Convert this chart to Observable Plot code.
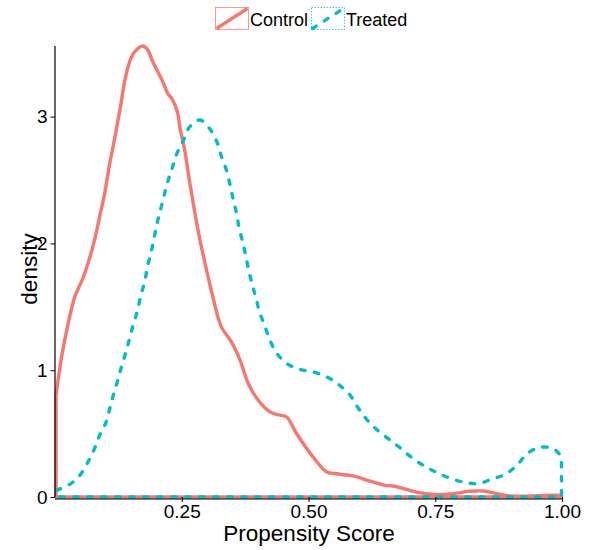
<!DOCTYPE html>
<html>
<head>
<meta charset="utf-8">
<script src="https://cdn.jsdelivr.net/npm/d3@7"></script>
<script src="https://cdn.jsdelivr.net/npm/@observablehq/plot@0.6"></script>
<style>
  html, body { margin: 0; padding: 0; background: #fff; }
  #chart { width: 589px; font-family: "Liberation Sans", Arial, Helvetica, sans-serif; }
  #chart svg { display: block; }
</style>
</head>
<body>
<div id="chart"></div>
<script>
// Estimated kernel density of the propensity score, by group
const groups = ["Control", "Treated"];
const groupColors = ["#F8766D", "#00BFC4"];

const controlX = [0.002, 0.013, 0.026, 0.039, 0.049, 0.055, 0.069, 0.078, 0.088, 0.098, 0.108, 0.114, 0.128, 0.138, 0.147, 0.157, 0.173, 0.183, 0.193, 0.211, 0.222, 0.232, 0.242, 0.246, 0.256, 0.266, 0.276, 0.286, 0.299, 0.312, 0.328, 0.348, 0.365, 0.381, 0.398, 0.424, 0.444, 0.457, 0.476, 0.509, 0.536, 0.552, 0.562, 0.588, 0.621, 0.651, 0.667, 0.713, 0.746, 0.786, 0.818, 0.845, 0.871, 0.897, 0.937, 0.970, 0.999];
const controlY = [0.80, 1.105, 1.369, 1.579, 1.671, 1.724, 1.894, 2.026, 2.210, 2.395, 2.631, 2.752, 3.052, 3.289, 3.431, 3.510, 3.557, 3.526, 3.431, 3.289, 3.186, 3.131, 3.028, 2.920, 2.731, 2.474, 2.239, 2.026, 1.789, 1.568, 1.342, 1.223, 1.079, 0.897, 0.779, 0.671, 0.645, 0.631, 0.503, 0.316, 0.197, 0.185, 0.179, 0.166, 0.126, 0.092, 0.087, 0.039, 0.021, 0.027, 0.045, 0.047, 0.027, 0.008, 0.008, 0.013, 0.013];

const treatedX = [0.003, 0.029, 0.049, 0.065, 0.078, 0.088, 0.101, 0.108, 0.115, 0.124, 0.131, 0.140, 0.147, 0.155, 0.163, 0.169, 0.177, 0.182, 0.189, 0.195, 0.201, 0.208, 0.215, 0.222, 0.231, 0.240, 0.253, 0.265, 0.286, 0.307, 0.320, 0.328, 0.338, 0.345, 0.351, 0.358, 0.363, 0.370, 0.376, 0.382, 0.389, 0.396, 0.404, 0.414, 0.424, 0.437, 0.457, 0.483, 0.509, 0.536, 0.559, 0.582, 0.598, 0.615, 0.634, 0.657, 0.680, 0.702, 0.726, 0.751, 0.776, 0.805, 0.834, 0.861, 0.888, 0.911, 0.930, 0.955, 0.983, 0.999];
const treatedY = [0.053, 0.100, 0.171, 0.276, 0.382, 0.487, 0.592, 0.698, 0.803, 0.923, 1.026, 1.144, 1.250, 1.369, 1.474, 1.586, 1.697, 1.811, 1.921, 2.032, 2.152, 2.263, 2.374, 2.481, 2.592, 2.705, 2.810, 2.916, 2.973, 2.894, 2.794, 2.689, 2.579, 2.466, 2.355, 2.237, 2.126, 2.013, 1.908, 1.789, 1.676, 1.574, 1.452, 1.347, 1.236, 1.137, 1.053, 1.006, 0.987, 0.947, 0.889, 0.803, 0.702, 0.611, 0.534, 0.461, 0.390, 0.316, 0.250, 0.197, 0.153, 0.118, 0.106, 0.140, 0.179, 0.250, 0.337, 0.390, 0.382, 0.316];

const xTicks = [0.25, 0.50, 0.75, 1.00];
const yTicks = [0, 1, 2, 3];
const xTitle = "Propensity Score";
const yTitle = "density";

const control = controlX.map((x, i) => ({x, y: controlY[i]}));
const treated = treatedX.map((x, i) => ({x, y: treatedY[i]}));

const FONT = `"Liberation Sans", Arial, Helvetica, sans-serif`;
const W = 589;
const legendH = 38;
const dash = "4.5,9.5";

// Legend row above the plot
const legend = d3.create("svg")
  .attr("width", W)
  .attr("height", legendH)
  .style("font-family", FONT);

const keyW = 33, keyH = 22, keyTop = 7.5;
const keyLefts = [215.5, 311.5];
groups.forEach((g, i) => {
  const x0 = keyLefts[i];
  const key = legend.append("g");
  key.append("rect")
    .attr("x", x0).attr("y", keyTop).attr("width", keyW).attr("height", keyH)
    .attr("fill", "none")
    .attr("stroke", groupColors[i])
    .attr("stroke-opacity", 0.75)
    .attr("stroke-width", 1)
    .attr("stroke-dasharray", i === 1 ? "1.5,1.5" : null);
  key.append("line")
    .attr("x1", x0 + 1).attr("y1", keyTop + keyH - 1)
    .attr("x2", x0 + keyW - 1).attr("y2", keyTop + 1)
    .attr("stroke", groupColors[i])
    .attr("stroke-width", 3.3)
    .attr("stroke-linecap", i === 1 ? "round" : "butt")
    .attr("stroke-dasharray", i === 1 ? dash : null);
  legend.append("text")
    .attr("x", x0 + keyW + 1.5)
    .attr("y", 26)
    .attr("font-size", 18)
    .attr("fill", "#000")
    .text(g);
});

document.getElementById("chart").appendChild(legend.node());

const plot = Plot.plot({
  width: W,
  height: 512,
  marginTop: 8,
  marginBottom: 53,
  marginLeft: 55,
  marginRight: 27,
  style: {fontFamily: FONT, background: "#fff", color: "#000", overflow: "visible"},
  x: {domain: [0, 1], label: null},
  y: {domain: [0, 3.557], label: null},
  marks: [
    Plot.areaY(control, {
      x: "x", y: "y", fill: "none",
      stroke: groupColors[0], strokeWidth: 3.4,
      curve: "catmull-rom", strokeLinejoin: "round"
    }),
    Plot.areaY(treated, {
      x: "x", y: "y", fill: "none",
      stroke: groupColors[1], strokeWidth: 3.4,
      strokeDasharray: dash, strokeLinecap: "round",
      curve: "catmull-rom"
    }),
    Plot.ruleY([0], {stroke: "#000", strokeWidth: 1.2, dy: 1.5}),
    Plot.ruleX([0], {stroke: "#000", strokeWidth: 1.2, dx: -0.5}),
    Plot.axisX({
      ticks: xTicks, tickFormat: d3.format(".2f"),
      tickSize: 5, tickPadding: 2, fontSize: 19, label: null, stroke: "#000"
    }),
    Plot.axisY({
      ticks: yTicks, tickFormat: d3.format("d"),
      tickSize: 4.5, tickPadding: 3.5, fontSize: 19, label: null, stroke: "#000"
    }),
    Plot.text([xTitle], {
      frameAnchor: "bottom", lineAnchor: "middle", textAnchor: "middle",
      dy: 36, fontSize: 22.5, fill: "#000"
    }),
    Plot.text([yTitle], {
      frameAnchor: "left", lineAnchor: "middle", textAnchor: "middle",
      dx: -26, dy: -3, rotate: -90, fontSize: 22.5, fill: "#000"
    })
  ]
});

document.getElementById("chart").appendChild(plot);
</script>
</body>
</html>
